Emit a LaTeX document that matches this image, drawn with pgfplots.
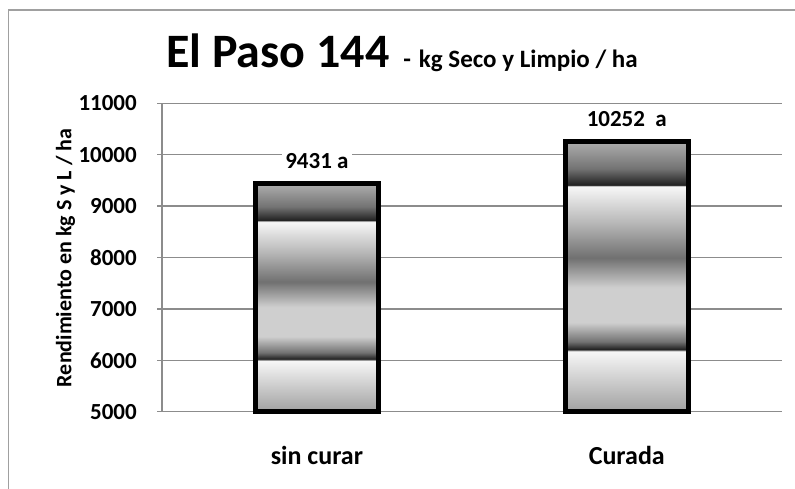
\documentclass[border=0pt]{standalone}
\usepackage{pgfplots}
\pgfplotsset{compat=1.18}
\usepackage{fontspec}
\setmainfont{Carlito}
\definecolor{gridgray}{HTML}{8C8C8C}
\definecolor{framegray}{HTML}{A0A0A0}
\pgfdeclareverticalshading{barshade}{100bp}{%
rgb(0bp)=(0.63,0.63,0.63);
rgb(25bp)=(0.63,0.63,0.63);
rgb(36.25bp)=(0.97,0.97,0.97);
rgb(36.5bp)=(0.12,0.12,0.12);
rgb(38bp)=(0.45,0.45,0.45);
rgb(41.5bp)=(0.81,0.81,0.81);
rgb(48bp)=(0.81,0.81,0.81);
rgb(53.5bp)=(0.44,0.44,0.44);
rgb(60bp)=(0.72,0.72,0.72);
rgb(66.75bp)=(0.97,0.97,0.97);
rgb(67bp)=(0.13,0.13,0.13);
rgb(70bp)=(0.45,0.45,0.45);
rgb(75bp)=(0.68,0.68,0.68);
rgb(100bp)=(0.68,0.68,0.68)}
\begin{document}
\begin{tikzpicture}
\useasboundingbox (0,0) rectangle (795pt,489pt);
\fill[white] (0,0) rectangle (795pt,489pt);
\draw[framegray, line width=1.3pt] (8.3pt,-5pt) -- (8.3pt,479pt) -- (800pt,479pt);
\begin{axis}[
  at={(162pt,77.3pt)}, anchor=south west,
  scale only axis, width=619.7pt, height=308.4pt,
  xmin=-0.5, xmax=1.5, ymin=5000, ymax=11000,
  ytick={5000,6000,7000,8000,9000,10000,11000},
  scaled y ticks=false,
  yticklabel={\pgfmathprintnumber[fixed, precision=0, set thousands separator={}]{\tick}},
  xtick={0,1}, xticklabels={sin curar, Curada},
  axis x line=bottom, axis y line=left,
  axis line style={draw=gridgray, line width=1.5pt, -},
  ymajorgrids, grid style={draw=gridgray, line width=1.5pt},
  tick align=outside, major tick length=5pt,
  ytick style={draw=gridgray, line width=1.5pt},
  xtick style={draw=none},
  /pgf/number format/assume math mode=true,
  yticklabel style={font=\bfseries\fontsize{23}{27}\selectfont, inner sep=0pt, xshift=-20pt},
  xticklabel style={font=\bfseries\fontsize{26}{30}\selectfont, inner sep=0pt, yshift=-29pt},
  clip=false,
  nodes near coords={\pgfplotspointmeta},
  point meta=explicit symbolic,
  every node near coord/.append style={font=\bfseries\fontsize{23}{27}\selectfont, fill=white, anchor=center, yshift=23pt, inner sep=3pt},
]
\addplot[ybar, bar shift=0pt, bar width=0.397, draw=black, line width=5pt, shading=barshade]
  coordinates {(0,9431) [9431 a]};
\addplot[ybar, bar shift=0pt, bar width=0.397, draw=black, line width=5pt, shading=barshade]
  coordinates {(1,10252) [10252\ \ a]};
\end{axis}
\node[anchor=base west, inner sep=0pt] at (166pt,421pt) {\bfseries\fontsize{48}{52}\selectfont El Paso 144\hspace{14pt}\fontsize{25}{30}\selectfont -\hspace{8pt}kg Seco y Limpio / ha};
\node[rotate=90, inner sep=0pt, font=\bfseries\fontsize{22}{26}\selectfont] at (65.5pt,231pt) {Rendimiento en kg S y L / ha};
\end{tikzpicture}
\end{document}
